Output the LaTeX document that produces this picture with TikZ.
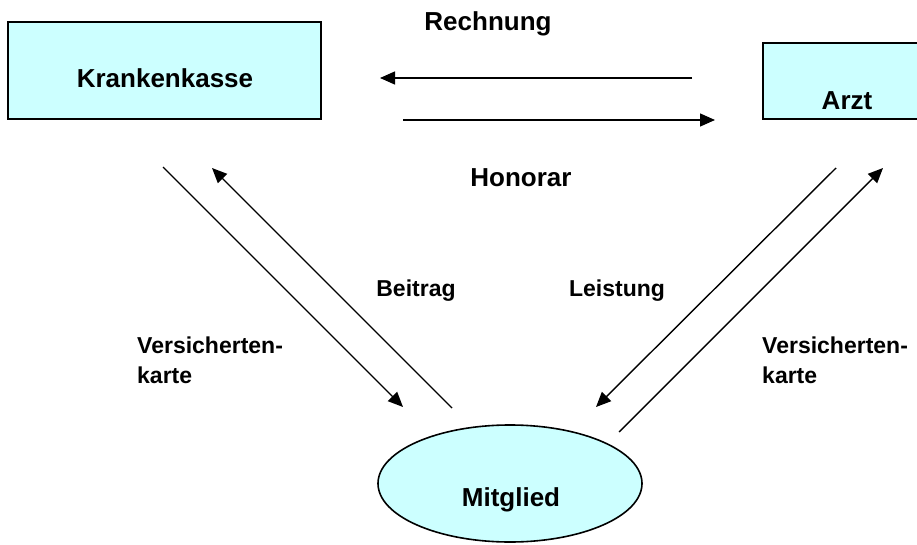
\documentclass[tikz,border=0pt]{standalone}
\usepackage{fontspec}
\setmainfont{Liberation Sans}
\usetikzlibrary{arrows.meta,positioning,shapes.geometric}
\definecolor{kasseblau}{HTML}{CCFFFF}
\tikzstyle{box}=[draw, line width=1.6pt, fill=kasseblau, inner sep=0pt]
\tikzstyle{gross}=[font=\bfseries\fontsize{26}{30}\selectfont, inner sep=0pt]
\tikzstyle{klein}=[font=\bfseries\fontsize{23}{30}\selectfont, inner sep=0pt, align=left]
\tikzstyle{flow}=[->, line width=1.4pt]

\begin{document}
\begin{tikzpicture}[x=1pt,y=-1pt,>={Triangle[length=15pt,width=13pt]}]
        \useasboundingbox (0,0) rectangle (917,545);
        % Kasse, Arzt, Mitglied
        \node [box,minimum width=313pt,minimum height=97pt] (kasse) at (164.5,70.5) {};
        \node [gross,anchor=base] (kassetxt) at (165,88) {Krankenkasse};
        \node [box,minimum width=156pt,minimum height=76pt] (arzt) at (841,81) {};
        \node [gross,anchor=base] (arzttxt) at (847,110) {Arzt};
        \node [box,ellipse,minimum width=264pt,minimum height=117pt] (mitglied) at (510,483.5) {};
        \node [gross,anchor=base] (mitgliedtxt) at (511,506) {Mitglied};
        % Pfeile
        \coordinate (r1) at (692,78);  \coordinate (r2) at (380,78);
        \coordinate (h1) at (403,120); \coordinate (h2) at (715,120);
        \coordinate (lv1) at (163,167); \coordinate (lv2) at (403,407);
        \coordinate (lb1) at (452,408); \coordinate (lb2) at (212,168);
        \coordinate (rl1) at (836,168); \coordinate (rl2) at (596,407);
        \coordinate (rv1) at (619,432); \coordinate (rv2) at (883,168);
        \draw [flow] (r1) -- (r2);
        \draw [flow] (h1) -- (h2);
        \draw [flow] (lv1) -- (lv2);
        \draw [flow] (lb1) -- (lb2);
        \draw [flow] (rl1) -- (rl2);
        \draw [flow] (rv1) -- (rv2);
        % Beschriftung
        \node [gross,anchor=base] (rechnung) at (488,31) {Rechnung};
        \node [gross,anchor=base] (honorar) at (521,187) {Honorar};
        \node [klein,anchor=base] (beitrag) at (416,296) {Beitrag};
        \node [klein,anchor=base] (leistung) at (617,296) {Leistung};
        \node [klein,anchor=north west] (karteL) at (137,337) {Versicherten-\\karte};
        \node [klein,anchor=north west] (karteR) at (762,337) {Versicherten-\\karte};
\end{tikzpicture}
\end{document}
